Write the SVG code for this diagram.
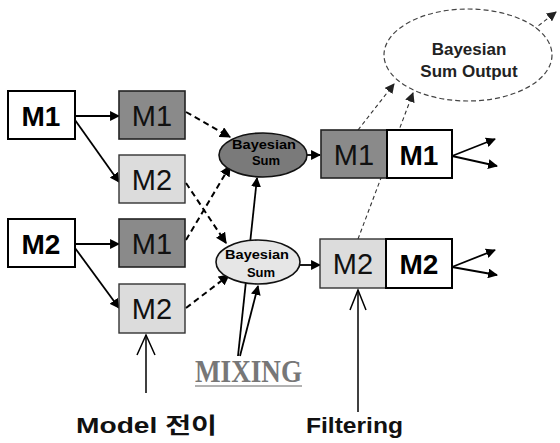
<svg xmlns="http://www.w3.org/2000/svg" width="560" height="443" viewBox="0 0 560 443">
<defs>
<marker id="ah" viewBox="0 0 10 10" refX="9" refY="5" markerWidth="5.5" markerHeight="5.5" orient="auto" markerUnits="strokeWidth">
<path d="M0,0 L10,5 L0,10 z" fill="#000"/>
</marker>
<marker id="ahs" viewBox="0 0 10 10" refX="9" refY="5" markerWidth="9" markerHeight="9" orient="auto" markerUnits="strokeWidth">
<path d="M0,0 L10,5 L0,10 z" fill="#222"/>
</marker>
</defs>
<style>
.wb{fill:#fff;stroke:#000;stroke-width:2}
.dk{fill:#8a8a8a;stroke:#222;stroke-width:1.6}
.lt{fill:#dcdcdc;stroke:#333;stroke-width:1.4}
.bt{font-family:"Liberation Sans",Arial,sans-serif;font-weight:bold;font-size:28px;text-anchor:middle;fill:#000}
.nt{font-family:"Liberation Sans",Arial,sans-serif;font-size:29px;text-anchor:middle;fill:#111}
.et{font-family:"Liberation Sans",Arial,sans-serif;font-weight:bold;font-size:13px;text-anchor:middle;fill:#000}
.ot{font-family:"Liberation Sans",Arial,sans-serif;font-weight:bold;font-size:17px;text-anchor:middle;fill:#222}
.s{stroke:#000;stroke-width:1.8;fill:none}
.d{stroke:#000;stroke-width:2;fill:none;stroke-dasharray:6 4}
.g{stroke:#333;stroke-width:1.1;fill:none;stroke-dasharray:4 3}
.lb{font-family:"Liberation Sans","Noto Sans CJK KR",sans-serif;font-weight:bold;font-size:22px;fill:#111}
</style>

<g id="connectors">
<line class="s" x1="75" y1="116" x2="119" y2="116" marker-end="url(#ah)"/>
<line class="s" x1="75" y1="120" x2="119" y2="182" marker-end="url(#ah)"/>
<line class="s" x1="75" y1="244" x2="119" y2="244" marker-end="url(#ah)"/>
<line class="s" x1="75" y1="248" x2="119" y2="308" marker-end="url(#ah)"/>
<line class="d" x1="186" y1="112" x2="230" y2="137" marker-end="url(#ah)"/>
<line class="d" x1="186" y1="183" x2="226" y2="243" marker-end="url(#ah)"/>
<line class="d" x1="186" y1="240" x2="230" y2="166" marker-end="url(#ah)"/>
<line class="d" x1="186" y1="308" x2="229" y2="275" marker-end="url(#ah)"/>
<line class="s" x1="306" y1="155" x2="320" y2="155" marker-end="url(#ah)"/>
<line class="s" x1="300" y1="265" x2="320" y2="265" marker-end="url(#ah)"/>
<line class="g" x1="358" y1="130" x2="394" y2="84" marker-end="url(#ahs)"/>
<line class="g" x1="358" y1="239" x2="413" y2="93" marker-end="url(#ahs)"/>
<line class="g" x1="533" y1="30" x2="556" y2="12" marker-end="url(#ahs)"/>
<line class="s" x1="452" y1="156" x2="495" y2="139" marker-end="url(#ah)"/>
<line class="s" x1="452" y1="156" x2="497" y2="166" marker-end="url(#ah)"/>
<line class="s" x1="452" y1="267" x2="495" y2="250" marker-end="url(#ah)"/>
<line class="s" x1="452" y1="267" x2="497" y2="275" marker-end="url(#ah)"/>
<line class="s" x1="238" y1="356" x2="257" y2="178" marker-end="url(#ah)"/>
<line class="s" x1="240" y1="356" x2="258" y2="286" marker-end="url(#ah)"/>
<line stroke="#000" stroke-width="1.5" x1="146" y1="393" x2="146" y2="335"/>
<polyline fill="none" stroke="#000" stroke-width="1.5" points="137,355 146,335 155,355"/>
<line stroke="#000" stroke-width="1.5" x1="358" y1="412" x2="358" y2="290"/>
<polyline fill="none" stroke="#000" stroke-width="1.5" points="350,310 358,290 366,310"/>
</g>

<g id="src-m1"><rect class="wb" x="8" y="91" width="67" height="48"/><text class="bt" x="41" y="126">M1</text></g>
<g id="src-m2"><rect class="wb" x="8" y="219" width="67" height="48"/><text class="bt" x="41" y="254">M2</text></g>

<g id="mid-m1a"><rect class="dk" x="119" y="91" width="66" height="48"/><text class="nt" x="152" y="126">M1</text></g>
<g id="mid-m2a"><rect class="lt" x="119" y="155" width="66" height="48"/><text class="nt" x="152" y="190">M2</text></g>
<g id="mid-m1b"><rect class="dk" x="119" y="219" width="66" height="48"/><text class="nt" x="152" y="254">M1</text></g>
<g id="mid-m2b"><rect class="lt" x="119" y="284" width="66" height="49"/><text class="nt" x="152" y="319">M2</text></g>

<g id="sum-dark"><ellipse cx="263" cy="155" rx="44" ry="22" fill="#7a7a7a" stroke="#111" stroke-width="1.6"/>
<text class="et" x="264" y="149" textLength="64" lengthAdjust="spacingAndGlyphs">Bayesian</text><text class="et" x="266" y="165">Sum</text></g>
<g id="sum-light"><ellipse cx="258" cy="262" rx="42" ry="22" fill="#e6e6e6" stroke="#111" stroke-width="1.6"/>
<text class="et" x="257" y="259" textLength="64" lengthAdjust="spacingAndGlyphs">Bayesian</text><text class="et" x="261" y="277">Sum</text></g>

<g id="out-m1"><rect class="dk" x="321" y="130" width="66" height="48"/><rect class="wb" x="387" y="130" width="65" height="48" stroke-width="1.6"/>
<text class="nt" x="354" y="165">M1</text><text class="bt" x="419" y="165">M1</text></g>
<g id="out-m2"><rect class="lt" x="320" y="239" width="66" height="49"/><rect class="wb" x="386" y="239" width="66" height="49" stroke-width="1.6"/>
<text class="nt" x="353" y="274">M2</text><text class="bt" x="419" y="274">M2</text></g>

<g id="sum-output"><ellipse cx="468" cy="55" rx="84" ry="46" fill="#fff" stroke="#444" stroke-width="1.2" stroke-dasharray="5 3"/>
<text class="ot" x="469" y="55">Bayesian</text>
<text class="ot" x="469" y="77">Sum Output</text></g>

<g id="mixing"><text x="195" y="382" font-family="Liberation Serif,Times New Roman,serif" font-weight="bold" font-size="32" fill="#777" textLength="107" lengthAdjust="spacingAndGlyphs">MIXING</text>
<line x1="195" y1="386" x2="302" y2="386" stroke="#999" stroke-width="1.5"/></g>
<g id="model-label"><text class="lb" x="76" y="433" textLength="141" lengthAdjust="spacingAndGlyphs">Model 전이</text></g>
<g id="filtering-label"><text class="lb" x="306" y="433" textLength="97" lengthAdjust="spacingAndGlyphs">Filtering</text></g>
</svg>
